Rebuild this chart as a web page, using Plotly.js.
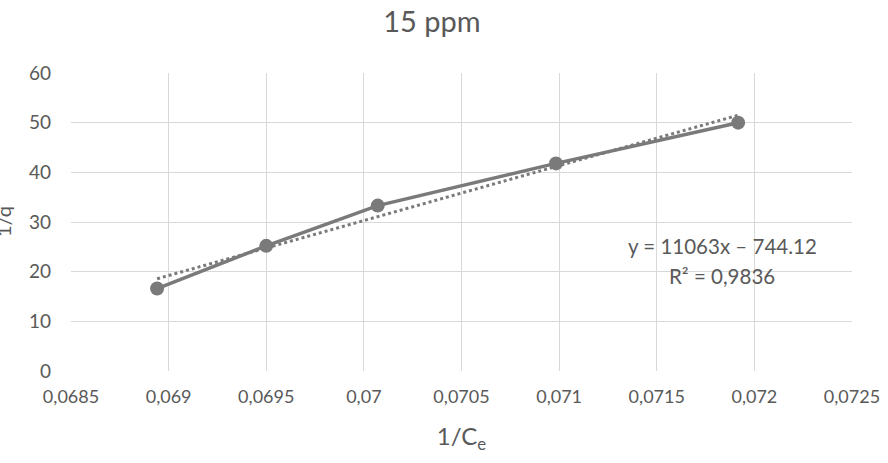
<!DOCTYPE html>
<html><head><meta charset="utf-8">
<script src="https://cdn.plot.ly/plotly-3.0.1.min.js"></script>
<style>html,body{margin:0;padding:0;background:#fff;}#chart{width:888px;height:463px;}</style>
</head><body><div id="chart"></div>
<script>
const invCe = [0.068941, 0.069500, 0.070071, 0.070984, 0.071917];
const invQ = [16.6, 25.2, 33.3, 41.8, 50.0];
const trendSlope = 11063;
const trendIntercept = -744.12;
const xTickVals = [0.0685, 0.069, 0.0695, 0.07, 0.0705, 0.071, 0.0715, 0.072, 0.0725];
const xTickText = ['0,0685','0,069','0,0695','0,07','0,0705','0,071','0,0715','0,072','0,0725'];
const yTickVals = [0, 10, 20, 30, 40, 50, 60];

const xmin = Math.min(...invCe), xmax = Math.max(...invCe);
const trendX = [xmin, xmax];
const trendY = trendX.map(x => trendSlope * x + trendIntercept);

const grey = '#7a7a7a';
const txt = '#595959';
const font = 'Lato, "Open Sans", sans-serif';

Plotly.newPlot('chart', [
  {x: trendX, y: trendY, mode: 'lines', line: {color: grey, width: 3, dash: 'dot'}, hoverinfo: 'skip'},
  {x: invCe, y: invQ, mode: 'lines+markers', line: {color: grey, width: 3.5}, marker: {color: grey, size: 14}}
], {
  width: 888, height: 463,
  margin: {l: 71, r: 36, t: 73, b: 92},
  showlegend: false,
  paper_bgcolor: '#fff', plot_bgcolor: '#fff',
  font: {family: font, color: txt},
  title: {text: '15 ppm', font: {size: 29, color: txt, family: font}, x: 432/888, xanchor: 'center', y: 1 - 22/463, yanchor: 'middle'},
  xaxis: {range: [0.0685, 0.0725001], tickvals: xTickVals, ticktext: xTickText, showgrid: true, gridcolor: '#d9d9d9', gridwidth: 1,
          zeroline: false, showline: false, ticks: '', tickfont: {size: 18, color: txt}, ticklabelstandoff: 13,
          title: {text: '1/C<sub>e</sub>', font: {size: 24, color: txt}, standoff: 22}},
  yaxis: {range: [0, 60], tickvals: yTickVals, showgrid: true, gridcolor: '#d9d9d9', gridwidth: 1,
          zeroline: false, showline: false, ticks: '', tickfont: {size: 19, color: txt}, ticklabelstandoff: 19},
  annotations: [
    {xref: 'paper', yref: 'paper', x: 0, y: 0.5, xanchor: 'center', yanchor: 'middle', xshift: -68, textangle: -90,
     text: '1/q', showarrow: false, font: {size: 20, color: txt}},
    {xref: 'x', yref: 'y', x: 0.071835, y: 25.2, xanchor: 'center', yanchor: 'middle', showarrow: false,
     text: 'y = 11063x – 744.12', font: {size: 20.5, color: txt}},
    {xref: 'x', yref: 'y', x: 0.071835, y: 19.2, xanchor: 'center', yanchor: 'middle', showarrow: false,
     text: 'R² = 0,9836', font: {size: 20.5, color: txt}}
  ]
}, {staticPlot: true});
</script></body></html>
